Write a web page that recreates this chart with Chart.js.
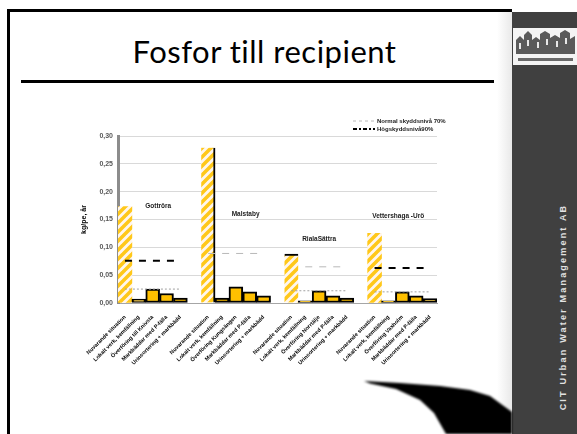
<!DOCTYPE html>
<html>
<head>
<meta charset="utf-8">
<title>Fosfor till recipient</title>
<script src="https://cdn.jsdelivr.net/npm/chart.js@4/dist/chart.umd.min.js"></script>
<style>
  html, body { margin: 0; padding: 0; background: #fff; }
  body { width: 577px; height: 434px; position: relative; overflow: hidden; font-family: 'Liberation Sans', Arial, sans-serif; }
  .frame-top { position: absolute; left: 7px; top: 9px; width: 505px; height: 3px; background: #000; }
  .frame-left { position: absolute; left: 7px; top: 9px; width: 3px; height: 425px; background: #000; }
  .title { position: absolute; left: 28px; width: 473px; top: 32px; text-align: center; font-family: Lato, sans-serif;
           font-size: 31px; letter-spacing: 0.5px; color: #000; }
  .rule { position: absolute; left: 21px; top: 80px; width: 473px; height: 3px; background: #000; }
  .shade { position: absolute; left: 497px; top: 12px; width: 15px; height: 422px; background: linear-gradient(to right, #fff, #e9e9e9); }
  .panel { position: absolute; left: 512px; top: 12px; width: 65px; height: 422px; background: #404040; }
  .brand { position: absolute; left: 443px; top: 301px; width: 240px; height: 12px; line-height: 12px; text-align: center;
           transform: rotate(-90deg); color: #e2e2e2; font-weight: bold; font-size: 9px; letter-spacing: 2.2px; white-space: nowrap; }
  #chart { position: absolute; left: 70px; top: 100px; }
  svg.deco { position: absolute; left: 0; top: 0; }
</style>
</head>
<body>
<div class="frame-top"></div>
<div class="frame-left"></div>
<div class="title">Fosfor till recipient</div>
<div class="rule"></div>
<div class="shade"></div>
<div class="panel"></div>
<svg class="deco" width="577" height="434">
  <defs><filter id="soft"><feGaussianBlur stdDeviation="0.8"/></filter></defs>
  <!-- logo box -->
  <rect x="513" y="28" width="64" height="37" fill="#f4f4f4"/>
  <g fill="#5a5a5a">
    <path d="M516 54 L516 40 L520 36 L524 40 L524 35 L528 31 L532 35 L532 40 L536 37 L540 40 L540 34 L545 31 L550 34 L550 38 L555 35 L560 38 L560 33 L565 30 L570 33 L570 39 L575 36 L575 54 Z"/>
  </g>
  <g fill="#e8e8e8">
    <rect x="519" y="43" width="2" height="6"/><rect x="527" y="40" width="2" height="6"/>
    <rect x="537" y="42" width="2" height="6"/><rect x="546" y="39" width="2" height="6"/>
    <rect x="556" y="41" width="2" height="6"/><rect x="565" y="38" width="2" height="6"/>
  </g>
  <rect x="518" y="58" width="55" height="3" fill="#6a6a6a"/>
  <!-- swoosh -->
  <path d="M364 381 L400 383 L440 386 L470 390 L490 396 L512 412 L512 434 L446 434 L434 413 L420 400 L396 389 L370 383.5 Z"
        fill="#000" filter="url(#soft)"/>
</svg>
<div class="brand">CIT Urban Water Management AB</div>
<canvas id="chart" width="395" height="300"></canvas>

<script>
// Fosfor till recipient, kg/pe och år
var groupNames = ['Gottröra', 'Malstaby', 'RialaSättra', 'Vettershaga -Urö'];

var gottrora = [0.173, 0.007, 0.025, 0.017, 0.009];
var malstaby = [0.279, 0.009, 0.029, 0.020, 0.013];
var rialaSattra = [0.088, 0.004, 0.022, 0.013, 0.009];
var vettershaga = [0.125, 0.004, 0.020, 0.013, 0.008];

var barLabels = [
  ['Nuvarande situation', 'Lokalt verk, kemfällning', 'Överföring till Knivsta', 'Markbäddar med P-fälla', 'Urinsortering + markbädd'],
  ['Nuvarande situation', 'Lokalt verk, kemfällning', 'Överföring Kungsängen', 'Markbäddar med P-fälla', 'Urinsortering + markbädd'],
  ['Nuvarande situation', 'Lokalt verk, kemfällning', 'Överföring Norrtälje', 'Markbäddar med P-fälla', 'Urinsortering + markbädd'],
  ['Nuvarande situation', 'Lokalt verk, kemfällning', 'Överföring Vaxholm', 'Markbäddar med P-fälla', 'Urinsortering + markbädd']
];

// skyddsnivåer per grupp (null = ingen linje)
var normal70 = [
  [null, null, null, null, null],
  [0.089, 0.089, 0.089, 0.089, 0.089],
  [null, 0.065, 0.065, 0.065, 0.065],
  [null, null, null, null, null]
];
var high90 = [
  [0.076, 0.076, 0.076, 0.076, 0.076],
  [null, null, null, null, null],
  [null, null, null, null, null],
  [0.063, 0.063, 0.063, 0.063, 0.063]
];
var lowLevel = [
  [0.025, 0.025, 0.025, 0.025, 0.025],
  [null, null, null, null, null],
  [0.022, 0.022, 0.022, 0.022, 0.022],
  [0.020, 0.020, 0.020, 0.020, 0.020]
];

var yTicks = [0, 0.05, 0.10, 0.15, 0.20, 0.25, 0.30];

// en tom kategori mellan grupperna
function flat(groups, gapValue) {
  var out = [];
  groups.forEach(function (g, i) {
    g.forEach(function (v) { out.push(v); });
    if (i < groups.length - 1) out.push(gapValue);
  });
  return out;
}

var categories = flat(barLabels, '');
var barValues = flat([gottrora, malstaby, rialaSattra, vettershaga], null);

function makeHatch() {
  var s = 9;
  var c = document.createElement('canvas');
  c.width = s; c.height = s;
  var g = c.getContext('2d');
  g.fillStyle = '#fff6ee';
  g.fillRect(0, 0, s, s);
  g.strokeStyle = '#ffc81a';
  g.lineWidth = 3.6;
  g.beginPath();
  [-s, 0, s].forEach(function (o) {
    g.moveTo(o - 1, s + 1);
    g.lineTo(o + s + 1, -1);
  });
  g.stroke();
  return g.createPattern(c, 'repeat');
}
var hatch = makeHatch();

function isFirstInGroup(i) { return i % 6 === 0; }

var labelFont = { family: 'Liberation Sans', size: 7, weight: 'bold' };

var groupTitles = {
  id: 'groupTitles',
  afterDatasetsDraw: function (chart) {
    var x = chart.scales.x, y = chart.scales.y, ctx = chart.ctx;
    var pos = [[2.4, 0.174], [8.7, 0.160], [14.0, 0.115], [19.7, 0.156]];
    ctx.save();
    ctx.font = 'bold 6.5px "Liberation Sans"';
    ctx.fillStyle = '#222';
    ctx.textAlign = 'center';
    ctx.textBaseline = 'middle';
    groupNames.forEach(function (name, i) {
      ctx.fillText(name, x.getPixelForValue(pos[i][0]), y.getPixelForValue(pos[i][1]));
    });
    ctx.restore();
  }
};

var levelLegend = {
  id: 'levelLegend',
  afterDraw: function (chart) {
    var ctx = chart.ctx, area = chart.chartArea;
    var x0 = area.right - 84;
    var rows = [0, 1].map(function (i) { return chart.data.datasets[i]; });
    ctx.save();
    ctx.font = 'bold 6px "Liberation Sans"';
    ctx.fillStyle = '#222';
    ctx.textBaseline = 'middle';
    rows.forEach(function (ds, i) {
      var yy = area.top - 15 + i * 8;
      ctx.strokeStyle = ds.borderColor;
      ctx.lineWidth = ds.borderWidth;
      ctx.setLineDash(i === 0 ? [3, 3] : [4, 2, 2, 2]);
      ctx.beginPath();
      ctx.moveTo(x0, yy);
      ctx.lineTo(x0 + 22, yy);
      ctx.stroke();
      ctx.setLineDash([]);
      ctx.fillText(ds.label, x0 + 24, yy);
    });
    ctx.restore();
  }
};

new Chart(document.getElementById('chart'), {
  type: 'bar',
  data: {
    labels: categories,
    datasets: [
      {
        type: 'line', label: 'Normal skyddsnivå 70%', data: flat(normal70, null),
        borderColor: '#b8b8b8', borderWidth: 1, borderDash: [7, 7],
        pointRadius: 0, spanGaps: false, order: 1
      },
      {
        type: 'line', label: 'Högskyddsnivå90%', data: flat(high90, null),
        borderColor: '#000', borderWidth: 2, borderDash: [7, 7],
        pointRadius: 0, spanGaps: false, order: 1
      },
      {
        type: 'line', label: '', data: flat(lowLevel, null),
        borderColor: '#a0a0a0', borderWidth: 1, borderDash: [2, 2],
        pointRadius: 0, spanGaps: false, order: 1
      },
      {
        label: 'Fosfor', data: barValues, order: 2,
        backgroundColor: function (c) { return isFirstInGroup(c.dataIndex) ? hatch : '#ffc000'; },
        borderColor: '#000',
        borderWidth: function (c) {
          if (!isFirstInGroup(c.dataIndex)) return 2;
          var g = c.dataIndex / 6;
          if (g === 1) return { right: 2 };
          if (g === 2) return { top: 2 };
          return 0;
        },
        borderSkipped: false,
        barPercentage: 1,
        categoryPercentage: 1
      }
    ]
  },
  options: {
    responsive: false,
    animation: false,
    layout: { padding: { left: 10, top: 36, right: 28, bottom: 0 } },
    plugins: { legend: { display: false }, tooltip: { enabled: false } },
    scales: {
      x: {
        grid: { display: false },
        border: { color: '#a6a6a6', width: 1 },
        ticks: {
          autoSkip: false, maxRotation: 45, minRotation: 45,
          font: { family: 'Liberation Sans', size: 5.5, weight: 'bold' }, color: '#000', padding: 3
        },
        afterFit: function (s) { s.height = 97; }
      },
      y: {
        min: 0, max: 0.30,
        afterBuildTicks: function (s) { s.ticks = yTicks.map(function (v) { return { value: v }; }); },
        grid: { color: '#d9d9d9', lineWidth: 1, drawTicks: false },
        border: { color: '#8c8c8c', width: 3 },
        ticks: {
          font: labelFont, color: '#595959', padding: 5,
          callback: function (v) { return Number(v).toFixed(2).replace('.', ','); }
        },
        title: { display: true, text: 'kg/pe, år', font: labelFont, color: '#000', padding: { top: 0, bottom: 2 } },
        afterFit: function (s) { s.width = 38; }
      }
    }
  },
  plugins: [groupTitles, levelLegend]
});
</script>
</body>
</html>
